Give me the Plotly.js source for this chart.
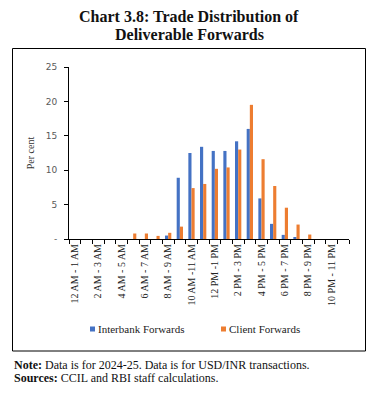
<!DOCTYPE html>
<html>
<head>
<meta charset="utf-8">
<script src="https://cdn.plot.ly/plotly-3.0.1.min.js"></script>
<style>
  html, body { margin: 0; padding: 0; background: #fff; }
  #chart { width: 378px; height: 399px; }
</style>
</head>
<body>
<div id="chart"></div>
<script>
// ---- Data ----
const categories = [
  "12 AM - 1 AM", "1 AM - 2 AM", "2 AM - 3 AM", "3 AM - 4 AM",
  "4 AM - 5 AM", "5 AM - 6 AM", "6 AM - 7 AM", "7 AM - 8 AM",
  "8 AM - 9 AM", "9 AM - 10 AM", "10 AM -11 AM", "11 AM - 12 PM",
  "12 PM -1 PM", "1 PM - 2 PM", "2 PM - 3 PM", "3 PM - 4 PM",
  "4 PM - 5 PM", "5 PM - 6 PM", "6 PM - 7 PM", "7 PM - 8 PM",
  "8 PM - 9 PM", "9 PM - 10 PM", "10 PM - 11 PM", "11 PM - 12 AM"
];
const tickLabels = [
  "12 AM - 1 AM", "", "2 AM - 3 AM", "", "4 AM - 5 AM", "", "6 AM - 7 AM", "",
  "8 AM - 9 AM", "", "10 AM -11 AM", "", "12 PM -1 PM", "", "2 PM - 3 PM", "",
  "4 PM - 5 PM", "", "6 PM - 7 PM", "", "8 PM - 9 PM", "", "10 PM - 11 PM", ""
];
const interbankForwards = [0, 0, 0, 0, 0, 0, 0, 0, 0.5, 8.9, 12.5, 13.4,
  12.8, 12.8, 14.2, 16.0, 5.9, 2.2, 0.6, 0.15, 0, 0, 0, 0];
const clientForwards = [0, 0, 0, 0, 0, 0.8, 0.8, 0.45, 0.9, 1.8, 7.4, 8.0,
  10.2, 10.4, 13.0, 19.5, 11.6, 7.7, 4.55, 2.1, 0.65, 0, 0, 0];
const yTickValues = [0, 5, 10, 15, 20, 25];
const yTickLabels = ["-", "5", "10", "15", "20", "25"];
const seriesNames = ["Interbank Forwards", "Client Forwards"];

// ---- Layout helpers (pixel -> paper) ----
const W = 378, H = 399;
const M = { l: 69, r: 29, t: 67, b: 160 };
const pw = W - M.l - M.r, ph = H - M.t - M.b;
const px = x => (x - M.l) / pw;
const py = y => (H - M.b - y) / ph;

const serif = "Liberation Serif, Times New Roman, serif";
const sans = "DejaVu Sans, Verdana, sans-serif";

const traces = [
  { type: "bar", name: seriesNames[0], x: categories, y: interbankForwards,
    marker: { color: "#4472C4" }, hoverinfo: "x+y+name" },
  { type: "bar", name: seriesNames[1], x: categories, y: clientForwards,
    marker: { color: "#ED7D31" }, hoverinfo: "x+y+name" }
];

const layout = {
  width: W, height: H,
  margin: M,
  paper_bgcolor: "#fff", plot_bgcolor: "#fff",
  barmode: "group", bargap: 0.46, bargroupgap: 0,
  showlegend: true,
  legend: {
    orientation: "h", x: px(58), xanchor: "left", y: py(329), yanchor: "middle",
    font: { family: serif, size: 11, color: "#222" },
    itemwidth: 30, entrywidth: 86, bgcolor: "rgba(0,0,0,0)"
  },
  xaxis: {
    type: "category", categoryorder: "array", categoryarray: categories,
    tickmode: "array", tickvals: categories, ticktext: tickLabels,
    tickson: "boundaries", ticks: "outside", ticklen: 4, tickcolor: "#000",
    tickangle: -90, tickfont: { family: serif, size: 10, color: "#222" },
    showline: true, linecolor: "#000", linewidth: 1,
    showgrid: false, zeroline: false, fixedrange: true
  },
  yaxis: {
    range: [0, 25], tickmode: "array", tickvals: yTickValues, ticktext: yTickLabels,
    ticks: "outside", ticklen: 4, tickcolor: "#000", ticklabelstandoff: 5,
    tickfont: { family: sans, size: 9, color: "#595959" },
    showline: true, linecolor: "#000", linewidth: 1,
    showgrid: false, zeroline: false, fixedrange: true,
    title: { text: "Per cent", font: { family: serif, size: 10, color: "#333" }, standoff: 9 }
  },
  shapes: [
    { type: "rect", xref: "paper", yref: "paper",
      x0: px(12.5), x1: px(365.5), y0: py(351), y1: py(48.5),
      line: { color: "#000", width: 1 }, fillcolor: "rgba(0,0,0,0)", layer: "below" }
  ],
  annotations: [
    { xref: "paper", yref: "paper", x: px(189), y: py(17), xanchor: "center", yanchor: "middle",
      text: "<b>Chart 3.8: Trade Distribution of</b>",
      showarrow: false, align: "center",
      font: { family: serif, size: 16, color: "#111" } },
    { xref: "paper", yref: "paper", x: px(189), y: py(35), xanchor: "center", yanchor: "middle",
      text: "<b>Deliverable Forwards</b>",
      showarrow: false, align: "center",
      font: { family: serif, size: 16, color: "#111" } },
    { xref: "paper", yref: "paper", x: px(12), y: py(365), xanchor: "left", yanchor: "middle",
      text: "<b>Note:</b> Data is for 2024-25. Data is for USD/INR transactions.",
      showarrow: false, align: "left",
      font: { family: serif, size: 12, color: "#111" } },
    { xref: "paper", yref: "paper", x: px(12), y: py(378), xanchor: "left", yanchor: "middle",
      text: "<b>Sources:</b> CCIL and RBI staff calculations.",
      showarrow: false, align: "left",
      font: { family: serif, size: 12, color: "#111" } }
  ]
};

Plotly.newPlot("chart", traces, layout, { displayModeBar: false }).then(gd => {
  // Excel-style small legend swatches placed close to the label text
  gd.querySelectorAll(".legendpoints path").forEach(p => {
    p.setAttribute("d", "M17,2.5H12V-2.5H17Z");
  });
});
</script>
</body>
</html>
